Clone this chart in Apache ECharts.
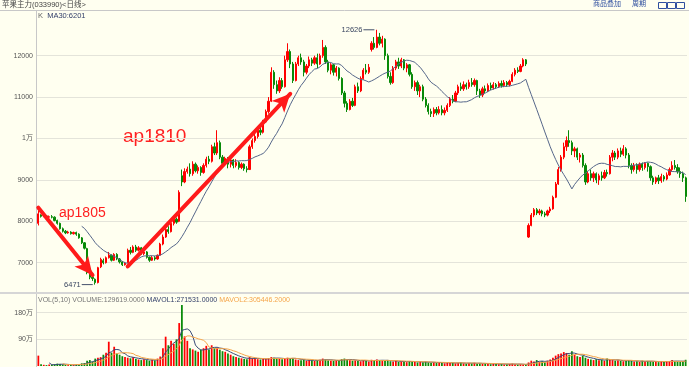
<!DOCTYPE html>
<html><head><meta charset="utf-8">
<script src="https://cdn.jsdelivr.net/npm/echarts@6/dist/echarts.min.js"></script>
<style>html,body{margin:0;padding:0;background:#FFFFF0;}#c{width:689px;height:367px;}</style>
</head><body><div id="c"></div>
<script>
// ---- data ----
const openP=[
7950,8150,8120,8130,8100,8110,8100,8020,7950,7820,
7760,7720,7740,7700,7730,7690,7600,7480,7340,6760,
6650,6600,6520,6900,7050,7000,7120,7180,7060,7200,
7090,7020,6950,7000,7300,7250,7380,7300,7360,7220,
7260,7130,7060,7120,7090,7180,7450,7620,7800,7750,
7950,8050,8000,9100,8950,9200,9260,9150,9380,9220,
9300,9180,9350,9500,9450,9800,9650,9900,9550,9400,
9520,9380,9480,9350,9420,9300,9380,9270,9250,9800,
9950,10050,10200,10150,10400,10650,10900,11600,11300,11150,
11400,11250,11900,12100,11800,11400,11800,11950,11850,11600,
11750,11900,11820,11950,11800,12000,12200,11850,11650,11780,
11600,11700,11450,11100,10850,10700,10900,10800,11250,11150,
11450,11650,11600,12150,12300,12200,12450,12300,12400,12000,
11500,11350,11700,11850,11750,11900,11700,11780,11550,11250,
11350,11150,11250,10950,10800,10650,10600,10700,10620,10700,
10620,10680,10800,10950,10900,11100,11250,11200,11300,11250,
11350,11300,11400,11150,11050,11200,11150,11280,11220,11300,
11250,11330,11280,11350,11300,11380,11550,11650,11620,11750,
11900,7620,7900,8150,8280,8200,8250,8180,8150,8250,
8300,8580,8900,9250,9550,9800,9950,9900,9700,9750,
9550,9600,9350,8950,9150,9050,9150,9000,9100,9050,
9180,9150,9550,9650,9550,9700,9620,9750,9600,9350,
9250,9350,9250,9380,9300,9400,9320,9050,8950,9050,
8980,9080,9020,9120,9250,9350,9300,9200,9150,9050];
const closeP=[
8180,8120,8130,8100,8110,8100,8020,7950,7820,7760,
7720,7740,7700,7730,7690,7600,7480,7350,6760,6650,
6620,6520,6880,7080,7000,7120,7180,7060,7200,7090,
7020,6950,6990,7300,7250,7380,7300,7360,7220,7260,
7130,7060,7120,7090,7180,7450,7620,7800,7750,7950,
8050,7980,8700,8950,9200,9260,9150,9380,9220,9300,
9180,9350,9500,9450,9800,9650,9900,9550,9400,9520,
9380,9480,9350,9420,9300,9380,9270,9250,9800,9950,
10050,10200,10150,10400,10650,10900,11600,11300,11150,11400,
11250,11900,12100,11800,11400,11800,11950,11850,11600,11750,
11900,11820,11950,11800,12000,12200,11850,11650,11780,11600,
11700,11450,11100,10850,10700,10900,10800,11250,11150,11450,
11650,11600,11720,12300,12200,12450,12300,12400,12000,11500,
11350,11700,11850,11750,11900,11700,11780,11550,11250,11350,
11150,11250,10950,10800,10650,10600,10700,10620,10700,10620,
10680,10800,10950,10900,11100,11250,11200,11300,11250,11350,
11300,11400,11150,11050,11200,11150,11280,11220,11300,11250,
11330,11280,11350,11300,11380,11550,11650,11620,11750,11900,
11800,7900,8150,8280,8200,8250,8180,8150,8250,8300,
8580,8900,9250,9550,9800,9950,9900,9700,9750,9550,
9600,9350,8950,9150,9050,9150,9000,9100,9050,9180,
9150,9550,9650,9550,9700,9620,9750,9600,9350,9250,
9350,9250,9380,9300,9400,9320,9050,8950,9050,8980,
9080,9020,9120,9250,9350,9300,9200,9150,9050,8600];
const lowP=[
7900,8090,8100,8080,8080,8070,8000,7920,7800,7730,
7690,7700,7680,7680,7650,7580,7450,7320,6720,6600,
6560,6471,6500,6870,6960,6980,7100,7030,7040,7060,
6980,6920,6930,6990,7200,7230,7260,7270,7190,7180,
7100,7020,7040,7050,7070,7170,7420,7600,7700,7730,
7900,7940,7980,8850,8920,9150,9080,9100,9180,9150,
9100,9150,9300,9380,9420,9600,9600,9500,9300,9350,
9280,9300,9280,9300,9250,9260,9220,9180,9240,9750,
9900,10000,10080,10120,10380,10600,10880,11200,11080,11100,
11200,11230,11850,11700,11340,11380,11750,11780,11500,11550,
11700,11750,11780,11700,11780,11950,11800,11600,11550,11520,
11500,11400,11050,10750,10640,10680,10760,10780,11100,11120,
11420,11550,11560,12100,12150,12180,12250,12200,11900,11450,
11300,11320,11650,11680,11700,11650,11600,11500,11200,11150,
11050,11000,10900,10750,10580,10520,10520,10560,10580,10560,
10560,10640,10760,10850,10880,11050,11150,11150,11180,11200,
11250,11250,11050,10980,11000,11100,11120,11170,11180,11200,
11220,11230,11240,11250,11260,11360,11500,11580,11600,11720,
11750,7600,7880,8100,8150,8150,8120,8100,8120,8200,
8280,8560,8880,9200,9500,9700,9800,9600,9550,9480,
9420,9300,8880,8920,8980,8950,8920,8880,8980,9020,
9080,9130,9450,9480,9500,9550,9580,9520,9280,9150,
9200,9150,9200,9220,9250,9200,8980,8880,8900,8900,
8930,8960,8990,9100,9200,9250,9150,9050,8950,8470];
const highP=[
8260,8170,8160,8150,8140,8150,8120,8040,7970,7850,
7790,7770,7760,7750,7750,7710,7620,7500,7360,6800,
6700,6620,6900,7120,7100,7150,7260,7200,7230,7230,
7110,7040,7020,7340,7380,7420,7430,7400,7380,7290,
7280,7150,7160,7160,7200,7480,7680,7860,7880,7990,
8100,8090,8750,9250,9280,9320,9400,9450,9420,9350,
9330,9400,9560,9580,9850,9900,10200,9950,9600,9560,
9550,9520,9500,9500,9450,9420,9400,9330,9850,10000,
10120,10260,10300,10450,10700,11000,11720,11650,11400,11480,
11460,12000,12300,12150,11850,11850,12000,12050,11900,11800,
11980,11950,12000,12050,12050,12380,12250,11900,11820,11800,
11750,11720,11480,11150,10900,10950,10980,11300,11350,11500,
11700,11800,11800,12350,12450,12626,12550,12480,12420,12050,
11600,11750,11900,11950,11950,11920,11820,11800,11600,11400,
11400,11300,11300,11000,10850,10720,10750,10760,10780,10800,
10750,10850,11000,11050,11150,11300,11350,11380,11350,11420,
11460,11450,11420,11200,11250,11280,11330,11350,11360,11340,
11380,11400,11410,11390,11420,11600,11700,11720,11800,11940,
11920,7950,8200,8320,8320,8300,8280,8230,8280,8350,
8620,8950,9310,9600,9900,10050,10200,9950,9800,9780,
9650,9650,9400,9220,9250,9200,9180,9150,9200,9240,
9250,9600,9720,9700,9760,9780,9840,9790,9650,9400,
9410,9400,9420,9420,9430,9420,9350,9100,9080,9120,
9150,9120,9180,9300,9450,9480,9380,9300,9200,9080];
const volume=[
350000,
60000,40000,30000,50000,40000,60000,80000,70000,50000,40000,30000,40000,30000,50000,60000,90000,100000,
180000,200000,150000,250000,280000,
300000,380000,450000,820000,450000,650000,420000,380000,330000,300000,280000,
260000,300000,240000,220000,200000,230000,200000,180000,210000,190000,250000,320000,
600000,990000,700000,850000,750000,900000,
1450000,2060000,1000000,
850000,600000,560000,520000,480000,550000,600000,680000,560000,700000,600000,620000,550000,500000,480000,420000,380000,330000,300000,280000,260000,240000,230000,
300000,260000,250000,230000,220000,250000,240000,260000,300000,280000,250000,240000,230000,260000,280000,250000,270000,
220000,200000,190000,210000,180000,200000,190000,170000,200000,210000,250000,220000,190000,180000,170000,190000,200000,230000,250000,220000,200000,
180000,190000,170000,160000,200000,180000,150000,210000,190000,220000,180000,170000,200000,190000,160000,150000,170000,140000,160000,150000,130000,170000,150000,140000,120000,140000,130000,150000,120000,110000,
120000,100000,130000,110000,90000,120000,100000,110000,90000,100000,120000,90000,80000,100000,90000,110000,80000,90000,70000,80000,90000,60000,70000,80000,60000,70000,50000,60000,70000,80000,60000,50000,60000,50000,40000,
120000,180000,150000,200000,140000,160000,130000,180000,220000,
280000,350000,400000,420000,470000,440000,380000,500000,
380000,330000,300000,350000,280000,
240000,220000,200000,230000,190000,210000,180000,250000,220000,200000,180000,190000,170000,
160000,180000,200000,170000,150000,160000,140000,180000,150000,170000,160000,140000,150000,130000,160000,140000,150000,170000,200000,160000,150000,140000,160000,210000];
const priceTicks=[7000,8000,9000,10000,11000,12000];
const priceTickLabels=['7000','8000','9000','1万','11000','12000'];
const volTicks=[900000,1800000];
const volTickLabels=['90万','180万'];
const MA_PERIOD=17;
const VOL_MA1=5, VOL_MA2=10;
const arrow1805=[[0,8330],[20,6700]];
const arrow1810=[[33,6910],[93,11080]];
const categories=closeP.map((_,i)=>'D'+(i+1));

// ---- helpers ----
function sma(arr,n){return arr.map((_,i)=>{if(i<n-1)return null;let s=0;for(let k=i-n+1;k<=i;k++)s+=arr[k];return +(s/n).toFixed(1);});}
const UP='#FF0000', DOWN='#088A08';
const FONT='"Liberation Sans", Arial, "Noto Sans CJK SC", sans-serif';
const candles=categories.map((_,i)=>[openP[i],closeP[i],lowP[i],highP[i]]);
const volData=volume.map((v,i)=>({value:v,itemStyle:{color:closeP[i]>=openP[i]?UP:DOWN}}));
const ma=sma(closeP,MA_PERIOD);
const vma1=sma(volume,VOL_MA1), vma2=sma(volume,VOL_MA2);
function tickFmt(ticks,labels){return v=>{const k=ticks.indexOf(v);return k<0?'':labels[k];};}

const chart=echarts.init(document.getElementById('c'),null,{renderer:'canvas'});
chart.setOption({
  animation:false,
  backgroundColor:'#FFFFF0',
  grid:[
    {left:37,right:2,top:14.3,height:289.8},
    {left:37,right:2,top:303.8,height:62.2}
  ],
  xAxis:[
    {type:'category',gridIndex:0,data:categories,boundaryGap:true,axisLine:{show:false},axisTick:{show:false},axisLabel:{show:false},splitLine:{show:false}},
    {type:'category',gridIndex:1,data:categories,boundaryGap:true,axisLine:{show:false},axisTick:{show:false},axisLabel:{show:false},splitLine:{show:false}}
  ],
  yAxis:[
    {type:'value',gridIndex:0,min:6000,max:13000,interval:1000,axisLine:{show:false},axisTick:{show:false},
     axisLabel:{formatter:tickFmt(priceTicks,priceTickLabels),color:'#555',fontSize:7,fontFamily:FONT,margin:4,showMinLabel:false,showMaxLabel:false},
     splitLine:{show:true,showMinLine:false,showMaxLine:false,lineStyle:{color:'#E4E4DA',width:1}}},
    {type:'value',gridIndex:1,min:0,max:2100000,interval:900000,axisLine:{show:false},axisTick:{show:false},
     axisLabel:{formatter:tickFmt(volTicks,volTickLabels),color:'#555',fontSize:7,fontFamily:FONT,margin:4,showMinLabel:false,showMaxLabel:false},
     splitLine:{show:true,showMinLine:false,showMaxLine:false,lineStyle:{color:'#E4E4DA',width:1}}}
  ],
  series:[
    {type:'candlestick',xAxisIndex:0,yAxisIndex:0,data:candles,barWidth:'65%',
     itemStyle:{color:UP,color0:DOWN,borderColor:UP,borderColor0:DOWN,borderWidth:1},
     markPoint:{symbol:'rect',symbolSize:[11,1],symbolOffset:[-8,0],silent:true,
       itemStyle:{color:'#44506A'},
       label:{show:true,position:'left',distance:1,color:'#3A4660',fontSize:7.5,fontFamily:FONT,formatter:p=>String(p.value)},
       data:[{type:'max',valueDim:'highest'},{type:'min',valueDim:'lowest'}]},
     markLine:{silent:true,symbol:['none','arrow'],symbolSize:[13,18],
       lineStyle:{color:'#FF1A1A',width:4,type:'solid',cap:'round'},label:{show:false},
       data:[
         [{coord:arrow1805[0]},{coord:arrow1805[1]}],
         [{coord:arrow1810[0]},{coord:arrow1810[1]}]
       ]}},
    {type:'line',xAxisIndex:0,yAxisIndex:0,data:ma,showSymbol:false,symbol:'none',lineStyle:{color:'#56678A',width:1},connectNulls:false,silent:true},
    {type:'bar',xAxisIndex:1,yAxisIndex:1,data:volData,barWidth:'65%',silent:true},
    {type:'line',xAxisIndex:1,yAxisIndex:1,data:vma1,symbol:'none',lineStyle:{color:'#3A4A78',width:1},silent:true},
    {type:'line',xAxisIndex:1,yAxisIndex:1,data:vma2,symbol:'none',lineStyle:{color:'#F5A54A',width:1},silent:true}
  ],
  graphic:[
    {type:'line',shape:{x1:0,y1:10.5,x2:689,y2:10.5},style:{stroke:'#C8C8C8',lineWidth:1},silent:true},
    {type:'line',shape:{x1:36.5,y1:10,x2:36.5,y2:367},style:{stroke:'#C8C8C8',lineWidth:1},silent:true},
    {type:'rect',shape:{x:0,y:292,width:689,height:2},style:{fill:'#D6D6D6'},silent:true},
    {type:'text',left:2,top:1,style:{text:'苹果主力(033990)<日线>',fill:'#444',font:'7.5px '+FONT},silent:true},
    {type:'text',left:593,top:1,style:{text:'商品叠加',fill:'#2F4F9F',font:'7px '+FONT},silent:true},
    {type:'text',left:632,top:1,style:{text:'周期',fill:'#2F4F9F',font:'7px '+FONT},silent:true},
    {type:'rect',shape:{x:658.5,y:2.5,width:8,height:6},style:{fill:'none',stroke:'#2F4F9F',lineWidth:1},silent:true},
    {type:'rect',shape:{x:667.5,y:2.5,width:8,height:6},style:{fill:'none',stroke:'#2F4F9F',lineWidth:1},silent:true},
    {type:'rect',shape:{x:676.5,y:2.5,width:8,height:6},style:{fill:'none',stroke:'#2F4F9F',lineWidth:1},silent:true},
    {type:'text',left:38,top:12,style:{text:'{k|K}  {m|MA30:6201}',font:'7.5px '+FONT,rich:{k:{fill:'#666',fontSize:7.5,fontFamily:FONT},m:{fill:'#34406A',fontSize:7.5,fontFamily:FONT}}},silent:true},
    {type:'text',left:38,top:297,style:{text:'{a|VOL(5,10) VOLUME:129619.0000} {b|MAVOL1:271531.0000} {c|MAVOL2:305446.2000}',font:'7px '+FONT,
      rich:{a:{fill:'#777',fontSize:7,fontFamily:FONT},b:{fill:'#34406A',fontSize:7,fontFamily:FONT},c:{fill:'#F5A54A',fontSize:7,fontFamily:FONT}}},silent:true},
    {type:'text',left:59,top:206,style:{text:'ap1805',fill:'#FF2020',font:'14px '+FONT},silent:true},
    {type:'text',left:123,top:127,style:{text:'ap1810',fill:'#FF2020',font:'19px '+FONT},silent:true}
  ]
});
</script></body></html>
